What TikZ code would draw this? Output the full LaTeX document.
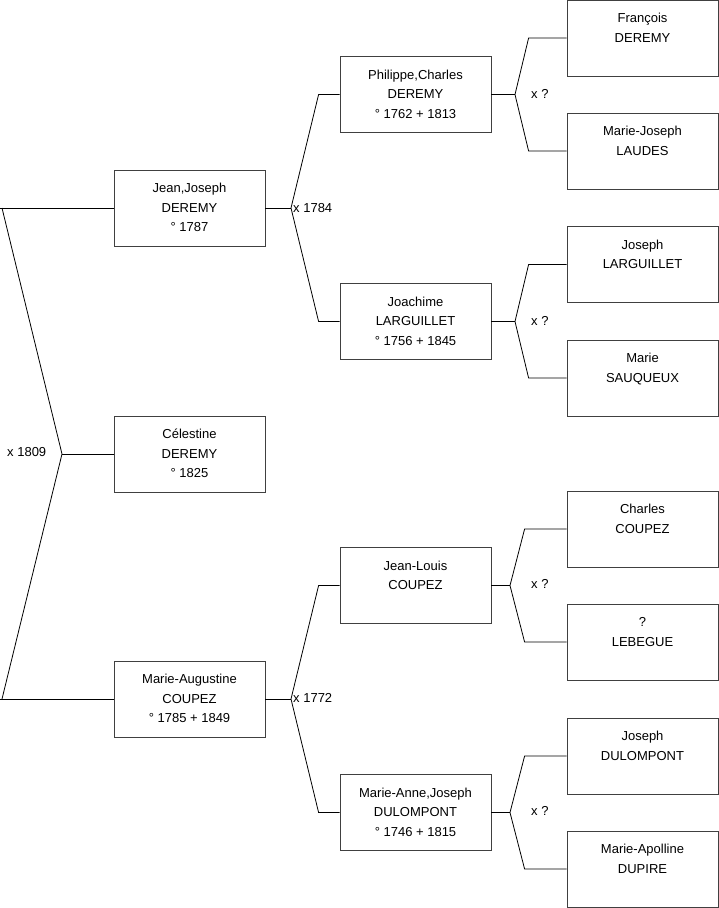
\documentclass[tikz,border=0pt]{standalone}
\usepackage{fontspec}
\setmainfont{Liberation Sans}
\begin{document}
\begin{tikzpicture}[x=1pt,y=-1pt,
  txt/.style={anchor=north, yshift=-11.8pt, align=center, inner sep=0pt, font=\fontsize{13}{19.6}\selectfont},
  person/.style={draw=black!75, line width=0.8pt, minimum width=151pt, minimum height=76pt, inner sep=0pt, label={[txt]north:\rule{0pt}{11pt}#1}},
  link/.style={draw=black, line width=0.8pt},
  mar/.style={anchor=base west, inner sep=0pt, font=\fontsize{13}{15}\selectfont}]
\useasboundingbox (0,0) rectangle (719,908);
% generation 0 and 1
\node[person={Jean,Joseph\\DEREMY\\° 1787}] (jean) at (189.5,208) {};
\node[person={Célestine\\DEREMY\\° 1825}] (cel) at (189.5,454) {};
\node[person={Marie-Augustine\\COUPEZ\\° 1785 + 1849}] (aug) at (189.5,699) {};
% generation 2
\node[person={Philippe,Charles\\DEREMY\\° 1762 + 1813}] (phil) at (415.5,94.5) {};
\node[person={Joachime\\LARGUILLET\\° 1756 + 1845}] (joach) at (415.5,321.5) {};
\node[person={Jean-Louis\\COUPEZ}] (jlouis) at (415.5,585.5) {};
\node[person={Marie-Anne,Joseph\\DULOMPONT\\° 1746 + 1815}] (manne) at (415.5,812.5) {};
% generation 3
\node[person={François\\DEREMY}] (fran) at (642.5,38) {};
\node[person={Marie-Joseph\\LAUDES}] (mjos) at (642.5,151) {};
\node[person={Joseph\\LARGUILLET}] (josl) at (642.5,264.5) {};
\node[person={Marie\\SAUQUEUX}] (mars) at (642.5,378) {};
\node[person={Charles\\COUPEZ}] (charl) at (642.5,529) {};
\node[person={?\\LEBEGUE}] (leb) at (642.5,642) {};
\node[person={Joseph\\DULOMPONT}] (josd) at (642.5,756) {};
\node[person={Marie-Apolline\\DUPIRE}] (mapo) at (642.5,869) {};
% forks
\coordinate (f0) at (62,454);
\draw[link] (jean.west) -- (0,208);
\draw[link] (aug.west) -- (0,699);
\draw[link] (2,208) -- (f0) -- (2,699);
\draw[link] (f0) -- (cel.west);
\node[mar] (m0) at (7,456) {x 1809};

\coordinate (f1) at (291,208);
\draw[link] (phil.west) -- ([xshift=-21pt]phil.west) -- (f1) -- ([xshift=-21pt]joach.west) -- (joach.west);
\draw[link] (jean.east) -- (f1);
\node[mar] (m1) at (293,212) {x 1784};

\coordinate (f2) at (291,699);
\draw[link] (jlouis.west) -- ([xshift=-21pt]jlouis.west) -- (f2) -- ([xshift=-21pt]manne.west) -- (manne.west);
\draw[link] (aug.east) -- (f2);
\node[mar] (m2) at (293,702) {x 1772};

\coordinate (f3) at (515,94.5);
\draw[link] (fran.west) -- ([xshift=-38pt]fran.west) -- (f3) -- ([xshift=-38pt]mjos.west) -- (mjos.west);
\draw[link] (phil.east) -- (f3);
\node[mar] (m3) at (531,98) {x ?};

\coordinate (f4) at (515,321.5);
\draw[link] (josl.west) -- ([xshift=-38pt]josl.west) -- (f4) -- ([xshift=-38pt]mars.west) -- (mars.west);
\draw[link] (joach.east) -- (f4);
\node[mar] (m4) at (531,325) {x ?};

\coordinate (f5) at (510,585.5);
\draw[link] (charl.west) -- ([xshift=-42pt]charl.west) -- (f5) -- ([xshift=-42pt]leb.west) -- (leb.west);
\draw[link] (jlouis.east) -- (f5);
\node[mar] (m5) at (531,588.5) {x ?};

\coordinate (f6) at (510,812.5);
\draw[link] (josd.west) -- ([xshift=-42pt]josd.west) -- (f6) -- ([xshift=-42pt]mapo.west) -- (mapo.west);
\draw[link] (manne.east) -- (f6);
\node[mar] (m6) at (531,815) {x ?};
\end{tikzpicture}
\end{document}
